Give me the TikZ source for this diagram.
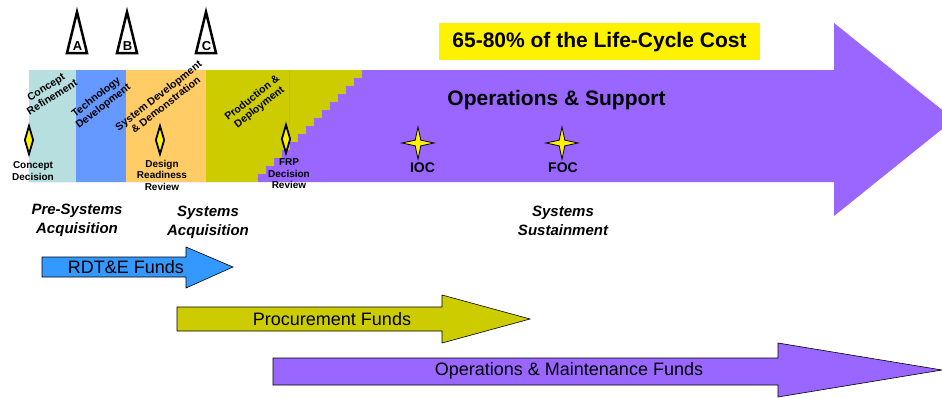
\documentclass[tikz,border=0pt]{standalone}
\usepackage{fontspec}
\setmainfont{Liberation Sans}
\usetikzlibrary{shapes.geometric}

\definecolor{opspurple}{HTML}{9966FF}
\definecolor{prodolive}{HTML}{CCCC00}
\definecolor{sddorange}{HTML}{FFCC66}
\definecolor{crblue}{HTML}{B7DFE0}
\definecolor{tdblue}{HTML}{6699FF}
\definecolor{rdtblue}{HTML}{3399FF}

\tikzset{
  phaselabel/.style={font=\bfseries\fontsize{10.5}{11.5}\selectfont, align=center, inner sep=0},
  decisionlabel/.style={font=\bfseries\fontsize{10}{11.5}\selectfont, align=center, inner sep=0},
  decision/.style={diamond, draw, fill=yellow, line width=1.8pt, minimum width=9pt, minimum height=29pt, inner sep=0},
  milestone/.style={star, star points=4, star point ratio=4, draw, fill=yellow, line width=0.8pt, minimum size=32pt, inner sep=0},
  msletter/.style={font=\bfseries\fontsize{13}{13}\selectfont, inner sep=0},
  phasename/.style={font=\bfseries\itshape\fontsize{15}{19}\selectfont, align=center, inner sep=0},
  fundarrow/.style={draw=black, line width=0.6pt},
  fundlabel/.style={font=\fontsize{18}{20}\selectfont, inner sep=0}
}

\begin{document}
\begin{tikzpicture}[x=1pt,y=-1pt]
\useasboundingbox (0,0) rectangle (942,397);

% Life-cycle arrow
\fill[opspurple] (29,70) -- (834,70) -- (834,23) -- (954,119.5) -- (834,216) -- (834,182) -- (29,182) -- cycle;
\fill[yellow] (439,23) rectangle (760,60);
\node[font=\bfseries\fontsize{21}{24}\selectfont] (cost) at (599.5,42) {65-80\% of the Life-Cycle Cost};
\node[font=\bfseries\fontsize{21}{24}\selectfont] (ops) at (556.5,100) {Operations \& Support};

% Phases
\fill[crblue] (29,70) rectangle (76,182);
\fill[tdblue] (76,70) rectangle (126,182);
\fill[sddorange] (126,70) rectangle (206,182);
\fill[prodolive] (206,70) rectangle (363,182);
\foreach \i in {0,...,13}
  \fill[opspurple] ({362-8*\i},{70+8*\i}) rectangle (364,{78+8*\i});
\draw[prodolive!75!gray, line width=0.3pt] (289,70) -- (289,124);

\node[phaselabel, rotate=32] (refine) at (49,92) {Concept\\Refinement};
\node[phaselabel, rotate=38] (techdev) at (100,102) {Technology\\Development};
\node[phaselabel, rotate=38] (sdd) at (162,100) {System Development\\\& Demonstration};
\node[phaselabel, rotate=38] (prod) at (256,103) {Production \&\\Deployment};

% Milestones A, B, C
\draw[line width=2.5pt, fill=white, line join=miter] (67,53) -- (77,12) -- (87,53) -- cycle;
\draw[line width=2.5pt, fill=white, line join=miter] (117,53) -- (127,12) -- (137,53) -- cycle;
\draw[line width=2.5pt, fill=white, line join=miter] (196,53) -- (206,12) -- (216,53) -- cycle;
\node[msletter] (msA) at (77.5,46.5) {A};
\node[msletter] (msB) at (127.5,46.5) {B};
\node[msletter] (msC) at (206.5,46.5) {C};

% Decision points
\node[decision] (cd) at (29,140) {};
\node[decision] (drr) at (160,140) {};
\node[decision] (frp) at (286,139) {};
\node[decisionlabel] (cdlabel) at (33,171) {Concept\\Decision};
\node[decisionlabel] (drrlabel) at (162,175) {Design\\Readiness\\Review};
\node[decisionlabel] (frplabel) at (289,174) {FRP\\Decision\\Review};

% IOC and FOC
\node[milestone] (ioc) at (418,143) {};
\node[milestone] (foc) at (562,143) {};
\node[font=\bfseries\fontsize{14}{14}\selectfont, inner sep=0] (ioclabel) at (422.5,168) {IOC};
\node[font=\bfseries\fontsize{14}{14}\selectfont, inner sep=0] (foclabel) at (563,168) {FOC};

% Acquisition periods
\node[phasename] (presys) at (77,220) {Pre-Systems\\Acquisition};
\node[phasename] (sysacq) at (208,222) {Systems\\Acquisition};
\node[phasename] (syssust) at (563,221) {Systems\\Sustainment};

% Funds
\draw[fundarrow, fill=rdtblue] (42,257) -- (186,257) -- (186,247) -- (233,267) -- (186,288) -- (186,277) -- (42,277) -- cycle;
\node[fundlabel] (rdte) at (126,267) {RDT\&E Funds};
\draw[fundarrow, fill=prodolive] (177,307) -- (442,307) -- (442,295) -- (530,319) -- (442,343) -- (442,331) -- (177,331) -- cycle;
\node[fundlabel] (proc) at (332,319) {Procurement Funds};
\draw[fundarrow, fill=opspurple] (273,358) -- (778,358) -- (778,343) -- (942,370) -- (778,397) -- (778,385) -- (273,385) -- cycle;
\node[fundlabel] (om) at (569,371) {Operations \& Maintenance Funds};
\end{tikzpicture}
\end{document}
